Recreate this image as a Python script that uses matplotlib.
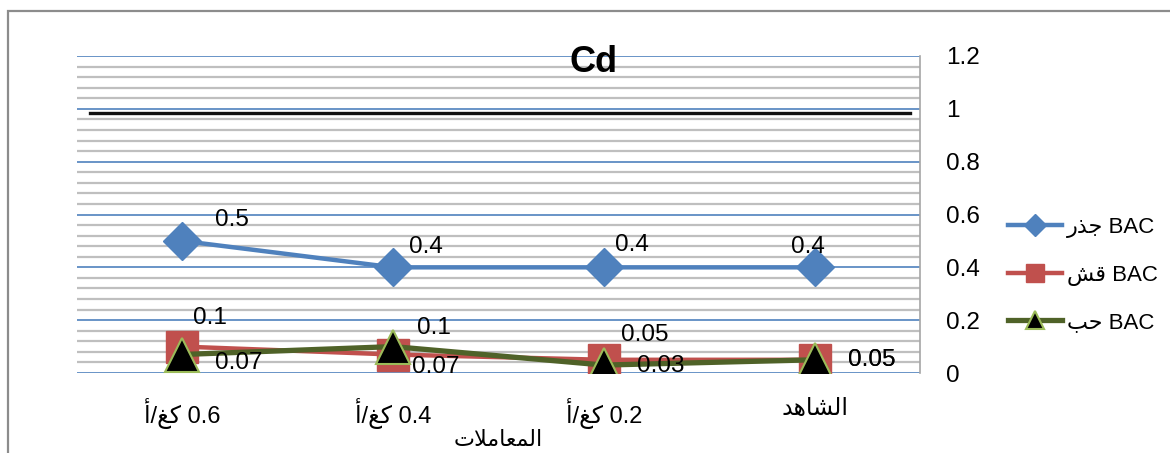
import numpy as np
import matplotlib
matplotlib.use("Agg")
import matplotlib.pyplot as plt
from matplotlib.lines import Line2D
from matplotlib.patches import Rectangle
from matplotlib.ticker import FixedLocator, FormatStrFormatter

# Arabic strings are written with presentation forms in visual order,
# since matplotlib does no shaping or bidi reordering itself.
treatments = ["\uFE83/\uFECE\uFEDB 0.6",          # 0.6 كغ/أ
              "\uFE83/\uFECE\uFEDB 0.4",          # 0.4 كغ/أ
              "\uFE83/\uFECE\uFEDB 0.2",          # 0.2 كغ/أ
              "\uFEAA\uFEEB\uFE8E\uFEB8\uFEDF\uFE8D"]  # الشاهد
xlabel = "\uFE95\uFEFC\uFEE3\uFE8E\uFECC\uFEE4\uFEDF\uFE8D"  # المعاملات

bac_root = [0.5, 0.4, 0.4, 0.4]
bac_straw = [0.1, 0.07, 0.05, 0.05]
bac_grain = [0.07, 0.1, 0.03, 0.05]

root_name = "\uFEAD\uFEAC\uFE9F BAC"   # BAC جذر
straw_name = "\uFEB6\uFED7 BAC"        # BAC قش
grain_name = "\uFE90\uFEA3 BAC"        # BAC حب

ref_level = 0.985

plt.rcParams["font.family"] = ["Liberation Sans", "DejaVu Sans"]

W, H = 1170, 453
fig = plt.figure(figsize=(W / 100, H / 100), dpi=100)

# outer chart frame
fig.add_artist(Rectangle((8 / W, -0.5), 2, 0.5 + 1 - 11 / H, transform=fig.transFigure,
                         fill=False, edgecolor="#8c8c8c", linewidth=1.6, clip_on=False))

ax = fig.add_axes([77 / W, 1 - 373 / H, 843 / W, 317 / H])
x = np.arange(len(treatments))

ax.set_xlim(-0.5, len(treatments) - 0.5)
ax.set_ylim(0, 1.2)

for s in ["left", "top", "bottom"]:
    ax.spines[s].set_visible(False)
ax.spines["right"].set_color("#a6a6a6")
ax.spines["right"].set_linewidth(1.2)

ax.yaxis.set_major_locator(FixedLocator([0, 0.2, 0.4, 0.6, 0.8, 1.0, 1.2]))
ax.yaxis.set_minor_locator(FixedLocator([i * 0.04 for i in range(31) if i % 5]))
ax.yaxis.set_major_formatter(FormatStrFormatter("%g"))
ax.yaxis.tick_right()
ax.tick_params(axis="y", which="both", length=0, pad=19, labelsize=17.5)
ax.grid(axis="y", which="minor", color="#bfbfbf", linewidth=1.6)
ax.grid(axis="y", which="major", color="#4f81bd", linewidth=1.2)
ax.set_axisbelow(True)

ax.set_xticks(x)
ax.set_xticklabels(treatments)
ax.tick_params(axis="x", length=0, pad=18, labelsize=17)
ax.set_xlabel(xlabel, fontsize=16, labelpad=1)

# reference line just under 1
ax.axhline(ref_level, xmin=13 / 843, xmax=833 / 843, color="#111111", linewidth=2.4)

ax.plot(x, bac_root, color="#4f81bd", linewidth=3.2, marker="D", markersize=19,
        markerfacecolor="#4f81bd", markeredgecolor="#4f81bd", zorder=3)
ax.plot(x, bac_straw, color="#c0504d", linewidth=3.2, marker="s", markersize=23,
        markerfacecolor="#c0504d", markeredgecolor="#c0504d", zorder=4)
ax.plot(x, bac_grain, color="#4f6228", linewidth=3.8, marker="^", markersize=24,
        markerfacecolor="black", markeredgecolor="#9bbb59", markeredgewidth=1.5, zorder=5)

ax.text(517 / 843, 1.177, "Cd", transform=ax.get_yaxis_transform(), fontsize=26,
        fontweight="bold", ha="center", va="center", zorder=7)

# value labels, offsets in pixels from each point
root_off = [(50, 21), (33, 20), (28, 22), (-7, 20)]
straw_off = [(28, 29), (43, -12), (41, 25), (57, 0)]
grain_off = [(56, -8), (41, 19), (57, -1), (57, 0)]
for vals, offs in [(bac_root, root_off), (bac_straw, straw_off), (bac_grain, grain_off)]:
    for xi, v, off in zip(x, vals, offs):
        ax.annotate(f"{v:g}", (xi, v), xytext=off, textcoords="offset pixels",
                    ha="center", va="center", fontsize=17.5, zorder=6)

handles = [
    Line2D([], [], color="#4f81bd", linewidth=3.2, marker="D", markersize=11),
    Line2D([], [], color="#c0504d", linewidth=3.2, marker="s", markersize=13),
    Line2D([], [], color="#4f6228", linewidth=3.8, marker="^", markersize=13,
           markerfacecolor="black", markeredgecolor="#9bbb59", markeredgewidth=1.5),
]
fig.legend(handles, [root_name, straw_name, grain_name], loc="center left",
           bbox_to_anchor=(1008 / W, 1 - 275 / H), frameon=False, fontsize=16,
           handlelength=2.45, handletextpad=0.2, labelspacing=1.2, borderpad=0,
           borderaxespad=0)

fig.savefig("out.png", dpi=100)
